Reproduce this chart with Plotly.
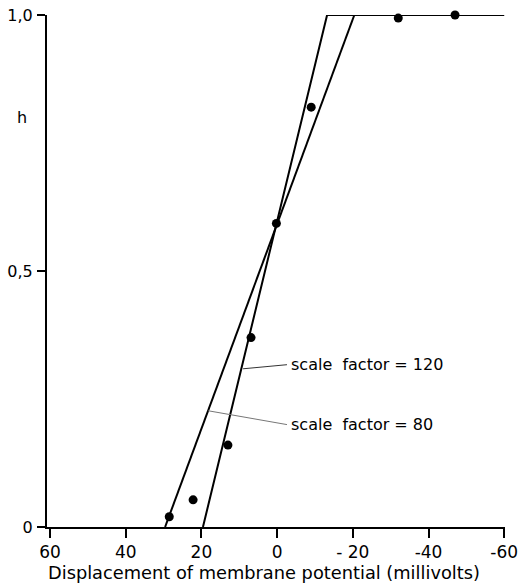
import plotly.graph_objects as go

# data points (displacement mV, h)
pts_x = [28.5, 22.2, 13.0, 6.9, 0.2, -9.0, -32.0, -47.0]
pts_h = [0.02, 0.053, 0.16, 0.37, 0.593, 0.82, 0.994, 1.0]

# fitted lines
steep_x = [19.6, -13.2, -60.0]   # scale factor = 120
steep_h = [0.0, 1.0, 1.0]
shallow_x = [29.6, -20.4]        # scale factor = 80
shallow_h = [0.0, 1.0]

# annotation pointers
ptr120_x = [9.0, -2.6]
ptr120_h = [0.309, 0.317]
ptr80_x = [18.2, -2.6]
ptr80_h = [0.227, 0.2]
label120 = "scale  factor = 120"
label80 = "scale  factor = 80"

xtick_vals = [60, 40, 20, 0, -20, -40, -60]
xtick_text = ["60", "40", "20", "0", "- 20", "-40", "-60"]
ytick_vals = [0, 0.5, 1.0]
ytick_text = ["0", "0,5", "1,0"]
x_title = "Displacement of membrane potential (millivolts)"

FONT = "DejaVu Sans"

fig = go.Figure()
fig.add_trace(go.Scatter(x=steep_x, y=steep_h, mode="lines",
                         line=dict(color="black", width=2), cliponaxis=False))
fig.add_trace(go.Scatter(x=shallow_x, y=shallow_h, mode="lines",
                         line=dict(color="black", width=2), cliponaxis=False))
fig.add_trace(go.Scatter(x=ptr120_x, y=ptr120_h, mode="lines",
                         line=dict(color="#333333", width=1), cliponaxis=False))
fig.add_trace(go.Scatter(x=ptr80_x, y=ptr80_h, mode="lines",
                         line=dict(color="#777777", width=1), cliponaxis=False))
fig.add_trace(go.Scatter(x=pts_x, y=pts_h, mode="markers",
                         marker=dict(color="black", size=9), cliponaxis=False))

fig.add_annotation(x=ptr120_x[1], y=ptr120_h[1], text=label120, showarrow=False,
                   xanchor="left", yanchor="middle", xshift=2,
                   font=dict(family=FONT, size=16, color="black"))
fig.add_annotation(x=ptr80_x[1], y=ptr80_h[1], text=label80, showarrow=False,
                   xanchor="left", yanchor="middle", xshift=2,
                   font=dict(family=FONT, size=16, color="black"))
fig.add_annotation(xref="paper", yref="y", x=-0.055, y=0.80, text="h", showarrow=False,
                   xanchor="center", yanchor="middle",
                   font=dict(family=FONT, size=16, color="black"))
fig.add_annotation(xref="paper", yref="paper", x=0.474, y=-0.088, text=x_title,
                   showarrow=False, xanchor="center", yanchor="middle",
                   font=dict(family=FONT, size=17.8, color="black"))

fig.update_layout(
    width=520, height=586,
    margin=dict(l=47, r=15, t=15, b=59),
    paper_bgcolor="white", plot_bgcolor="white",
    showlegend=False,
    font=dict(family=FONT, size=17, color="black"),
    xaxis=dict(range=[60.8, -60.2], tickvals=xtick_vals, ticktext=xtick_text,
               showgrid=False, zeroline=False, showline=True, linecolor="black",
               linewidth=2, ticks="outside", ticklen=9, tickwidth=1.5,
               tickcolor="black", automargin=False, ticklabeloverflow="allow",
               tickfont=dict(family=FONT, size=17)),
    yaxis=dict(range=[0, 1.0], tickvals=ytick_vals, ticktext=ytick_text,
               showgrid=False, zeroline=False, showline=True, linecolor="black",
               linewidth=2, ticks="outside", ticklen=8, tickwidth=1.5,
               tickcolor="black", ticklabelstandoff=1, automargin=False,
               tickfont=dict(family=FONT, size=16)),
)

fig.write_html("out.html")
